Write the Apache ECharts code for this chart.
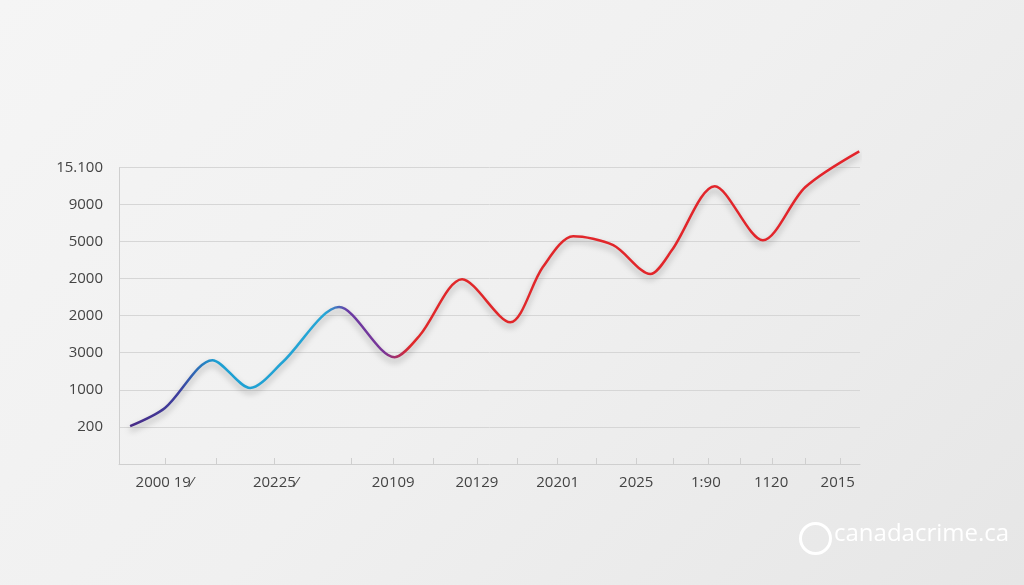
<!DOCTYPE html>
<html><head><meta charset="utf-8">
<script src="https://cdn.jsdelivr.net/npm/echarts@6/dist/echarts.min.js"></script>
<style>html,body{margin:0;padding:0;background:linear-gradient(135deg,#f5f5f5,#f0f0f0 50%,#e6e6e6);}#c{width:1024px;height:585px;}</style>
</head><body><div id="c"></div>
<script>
const xPos = [1.5,6.2,12.6,17.7,22.1,29.7,37.2,40.6,46.3,52.8,57.2,61.3,66.7,71.7,74.6,80.4,86.9,92.6,99.9];
const yVals = [1.02,1.51,2.80,2.05,2.75,4.23,2.88,3.47,4.98,3.82,5.31,6.14,5.90,5.12,5.76,7.49,6.03,7.46,8.43];
const yTickLabels = ['200','1000','3000','2000','2000','5000','9000','15.100'];
const xLabelPos = [6.1,21.1,37.0,48.3,59.2,69.8,79.2,88.0,97.0];
const xLabels = ['2000 19⁄','20225⁄','20109','20129','20201','2025','1:90','1120','2015'];
const xTickPos = [6.3,13.1,20.9,31.4,37.0,42.4,48.4,53.7,59.1,64.4,69.8,74.8,79.5,83.8,88.1,92.6,97.3];
const yTickPos = [1,2,3,4,5,6,7,8];

const chart = echarts.init(document.getElementById('c'));
const xLabelMap = {}; xLabelPos.forEach((p,i)=>xLabelMap[p]=xLabels[i]);
chart.setOption({
  backgroundColor:'transparent',
  grid:{left:119,right:164,top:145,bottom:121},
  xAxis:{type:'value',min:0,max:100,
    axisLine:{show:true,lineStyle:{color:'#cfcfcf'}},
    axisTick:{show:true,customValues:xTickPos,length:6,inside:true,lineStyle:{color:'#cfcfcf'}},
    axisLabel:{customValues:xLabelPos,formatter:v=>xLabelMap[v]||'',color:'#444',fontSize:15,margin:11,fontFamily:'Open Sans'},
    splitLine:{show:false}},
  yAxis:{type:'value',min:0,max:8.6,
    axisLine:{show:false},
    axisTick:{show:false,customValues:yTickPos},
    axisLabel:{customValues:yTickPos,formatter:v=>yTickLabels[Math.round(v)-1]||'',color:'#444',fontSize:15,margin:16,fontFamily:'Open Sans'},
    splitLine:{show:true,lineStyle:{color:'#d6d6d6'}}},
  series:[{type:'line',smooth:0.3,symbol:'none',
    data:xPos.map((x,i)=>[x,yVals[i]]),
    lineStyle:{width:2.5,shadowBlur:6,shadowColor:'rgba(0,0,0,0.3)',shadowOffsetY:4,
      color:new echarts.graphic.LinearGradient(0,0,1,0,[
        {offset:0,color:'#4a2a86'},{offset:0.07,color:'#3d3f9e'},{offset:0.12,color:'#1d9fd2'},
        {offset:0.27,color:'#26a6d6'},{offset:0.30,color:'#6a3aa4'},{offset:0.35,color:'#7a3596'},
        {offset:0.385,color:'#e0282a'},{offset:1,color:'#e3242b'}])},
    markLine:{silent:true,symbol:'none',label:{show:false},animation:false,
      lineStyle:{color:'#cfcfcf',type:'solid',width:1,shadowBlur:0},
      data:[[{coord:[0,0]},{coord:[0,8]}]]}
  }],
  graphic:[
    {type:'circle',left:798,top:521,shape:{r:15},style:{fill:'none',stroke:'#ffffff',lineWidth:3}},
    {type:'text',left:834,top:522,style:{text:'canadacrime.ca',fill:'#ffffff',font:'24px "Open Sans"'}}
  ]
});
</script></body></html>
